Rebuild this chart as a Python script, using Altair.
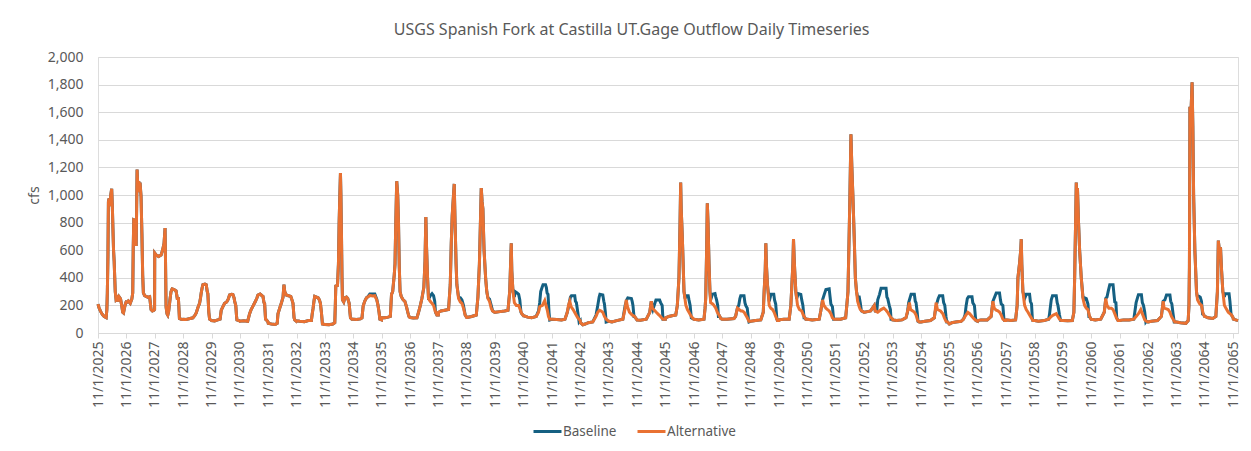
import altair as alt
import pandas as pd

TITLE = "USGS Spanish Fork at Castilla UT.Gage Outflow Daily Timeseries"
Y_TITLE = "cfs"
Y_TICKS = list(range(0, 2001, 200))
X_TICK_YEARS = list(range(2025, 2066))
SERIES = ["Baseline", "Alternative"]
COLORS = ["#156082", "#E97132"]

# Alternative series:
# (water year starting 1 Nov, [(days after 1 Nov, cfs), ...])
alternative = [
    (2025, [(0,210),(12,185),(30,160),(55,135),(80,120),(105,112),(114,170),(120,290),(128,560),(134,950),(142,975),(152,920),(162,990),(176,1045),(184,930),(192,760),(200,600),(208,520),(214,420),(222,300),(232,245),(245,255),(258,228),(272,262),(290,248),(305,200),(318,150),(328,145),(338,175),(350,205),(360,222)]),
    (2026, [(0,220),(25,232),(50,215),(70,245),(82,290),(88,600),(95,820),(116,815),(122,700),(126,630),(132,900),(138,1185),(148,1050),(159,1100),(168,1020),(176,1090),(189,990),(200,720),(210,420),(219,290),(235,270),(254,265),(280,258),(300,262),(312,200),(318,170),(335,160),(355,165),(363,170)]),
    (2027, [(0,580),(20,565),(50,555),(82,565),(95,590),(103,605),(120,650),(133,760),(138,560),(146,190),(158,140),(168,130),(180,160),(198,250),(210,300),(224,320),(250,315),(275,305),(290,250),(305,250),(318,105),(340,100),(362,98)]),
    (2028, [(0,100),(40,98),(90,105),(125,110),(150,128),(168,145),(190,185),(211,215),(222,250),(232,290),(245,330),(254,350),(280,355),(297,350),(310,300),(318,285),(330,150),(340,100),(362,92)]),
    (2029, [(0,90),(40,88),(80,95),(110,100),(125,165),(145,190),(168,215),(195,225),(215,245),(232,275),(260,280),(275,278),(290,255),(297,230),(312,200),(322,120),(327,95),(362,88)]),
    (2030, [(0,85),(50,88),(100,85),(125,140),(145,170),(168,195),(200,230),(220,255),(232,275),(260,282),(285,270),(297,265),(310,220),(318,215),(330,100),(340,95),(362,80)]),
    (2031, [(0,70),(40,65),(90,62),(115,70),(125,140),(150,185),(168,215),(190,260),(202,350),(212,300),(232,275),(260,270),(290,265),(305,240),(318,215),(332,110),(340,95),(362,85)]),
    (2032, [(0,88),(40,85),(100,82),(150,90),(189,90),(200,140),(211,180),(222,230),(232,265),(255,260),(275,255),(292,240),(305,215),(318,150),(331,65),(362,62)]),
    (2033, [(0,62),(50,60),(100,65),(125,75),(132,200),(138,340),(160,345),(172,500),(181,800),(190,1000),(198,1160),(204,1000),(211,720),(218,400),(224,240),(240,225),(255,255),(275,260),(292,250),(310,215),(320,150),(327,110),(345,100),(362,100)]),
    (2034, [(0,100),(40,98),(90,102),(110,110),(125,195),(145,230),(168,255),(190,262),(211,272),(250,268),(275,270),(300,240),(315,205),(330,150),(340,100),(362,95)]),
    (2035, [(0,110),(40,110),(80,115),(110,120),(125,280),(140,300),(160,420),(170,500),(180,800),(192,1100),(205,1000),(215,800),(225,480),(235,300),(250,265),(275,240),(297,230),(318,190),(335,150),(350,120),(362,112)]),
    (2036, [(0,112),(40,108),(86,110),(107,150),(130,200),(150,250),(175,330),(190,520),(201,840),(210,620),(223,400),(235,250),(257,230),(280,215),(300,200),(320,160),(343,130),(362,130)]),
    (2037, [(0,150),(30,160),(80,165),(128,170),(150,350),(163,650),(175,850),(201,1080),(212,800),(225,500),(235,350),(257,250),(280,225),(300,215),(320,180),(342,130),(362,112)]),
    (2038, [(0,112),(60,120),(120,130),(141,260),(160,500),(184,1050),(195,950),(205,900),(220,600),(240,400),(255,300),(270,250),(290,230),(312,180),(330,160),(355,150),(362,150)]),
    (2039, [(0,150),(60,155),(120,160),(163,165),(185,300),(205,650),(212,450),(227,300),(245,220),(270,200),(300,200),(320,170),(340,140),(355,130),(362,125)]),
    (2040, [(0,125),(50,115),(100,110),(160,120),(190,150),(205,190),(240,200),(270,235),(291,190),(305,160),(318,120),(334,100),(362,100)]),
    (2041, [(0,100),(60,98),(120,95),(165,100),(195,150),(210,200),(227,230),(245,190),(270,170),(300,140),(330,110),(362,90)]),
    (2042, [(0,75),(30,60),(60,65),(100,75),(158,80),(200,120),(222,150),(245,165),(265,160),(287,150),(308,120),(330,100),(362,85)]),
    (2043, [(0,85),(40,80),(100,90),(180,100),(210,180),(223,240),(240,190),(265,150),(300,130),(330,120),(362,95)]),
    (2044, [(0,95),(40,92),(116,100),(160,150),(180,230),(195,180),(244,150),(280,130),(330,100),(362,100)]),
    (2045, [(0,110),(40,120),(80,125),(130,130),(150,200),(171,400),(185,800),(193,1090),(200,900),(214,700),(236,300),(260,200),(280,170),(300,150),(330,120),(362,100)]),
    (2046, [(0,100),(60,95),(128,100),(142,180),(150,250),(162,600),(171,940),(180,800),(193,500),(205,300),(214,220),(240,210),(257,200),(280,180),(300,150),(321,130),(345,105),(362,100)]),
    (2047, [(0,100),(60,100),(150,105),(170,120),(193,180),(215,170),(240,160),(257,160),(280,150),(300,130),(320,110),(342,85),(362,85)]),
    (2048, [(0,85),(60,90),(128,95),(160,150),(171,300),(185,450),(193,650),(200,500),(214,350),(236,200),(257,180),(280,170),(300,150),(320,120),(342,90),(362,90)]),
    (2049, [(0,95),(60,100),(128,100),(150,200),(163,350),(176,500),(184,680),(192,550),(200,450),(214,300),(236,200),(260,170),(290,160),(310,130),(330,110),(342,100),(362,100)]),
    (2050, [(0,100),(60,95),(150,100),(170,160),(193,240),(210,200),(236,180),(257,170),(278,160),(300,140),(320,110),(342,100),(362,100)]),
    (2051, [(0,100),(60,100),(125,110),(140,200),(155,300),(168,650),(180,1000),(193,1440),(205,1200),(218,1000),(235,700),(250,400),(265,300),(279,230),(300,190),(313,170),(330,160),(362,150)]),
    (2052, [(0,150),(40,155),(80,160),(128,200),(140,160),(172,150),(215,170),(250,180),(279,165),(300,150),(320,130),(343,110),(362,100)]),
    (2053, [(0,95),(50,90),(120,95),(170,110),(200,180),(214,220),(230,170),(257,160),(280,150),(300,130),(321,90),(342,80),(362,80)]),
    (2054, [(0,80),(50,85),(120,90),(170,110),(193,220),(210,170),(250,160),(280,140),(300,110),(321,85),(342,80),(362,65)]),
    (2055, [(0,65),(30,75),(80,80),(150,85),(180,100),(200,120),(236,150),(260,140),(290,120),(320,100),(342,90),(362,85)]),
    (2056, [(0,90),(40,95),(120,95),(170,120),(193,230),(210,180),(236,165),(257,160),(280,150),(300,130),(321,100),(342,90),(362,90)]),
    (2057, [(0,95),(60,90),(120,95),(140,200),(150,400),(170,500),(186,600),(193,680),(200,500),(214,300),(236,200),(257,170),(280,150),(300,130),(321,110),(342,90),(362,90)]),
    (2058, [(0,90),(50,85),(120,90),(180,100),(214,120),(240,130),(278,140),(300,120),(321,100),(342,90),(362,90)]),
    (2059, [(0,90),(60,88),(120,90),(140,150),(150,400),(162,800),(171,1090),(178,950),(186,1050),(200,800),(214,600),(235,400),(257,250),(278,200),(300,180),(321,170),(342,120),(362,100)]),
    (2060, [(0,100),(50,95),(120,100),(165,150),(184,250),(200,200),(225,180),(257,180),(278,170),(300,140),(321,110),(342,90),(362,90)]),
    (2061, [(0,90),(50,95),(120,95),(180,100),(210,120),(240,140),(270,170),(290,140),(321,95),(342,85),(362,80)]),
    (2062, [(0,80),(40,85),(120,90),(170,120),(193,230),(205,180),(236,175),(257,170),(280,150),(300,120),(321,100),(342,80),(362,80)]),
    (2063, [(0,80),(50,75),(120,70),(150,90),(160,200),(166,480),(172,1640),(180,1500),(200,1816),(210,1500),(220,1000),(236,600),(257,300),(270,240),(290,220),(300,210),(321,200),(342,140),(362,120)]),
    (2064, [(0,120),(40,110),(100,105),(140,120),(160,300),(172,670),(185,600),(200,620),(214,450),(230,300),(250,200),(270,180),(300,150),(321,140),(342,130),(362,110)]),
    (2065, [(0,100),(30,95),(60,90)]),
]

# Baseline series: where it differs from Alternative (summer humps).
# Outside these windows the two lines lie on top of each other.
baseline_humps = [
    (2034, [(168,255),(190,265),(211,282),(275,282),(300,245),(315,205)]),
    (2036, [(240,250),(257,270),(280,285),(300,270),(315,230),(325,150)]),
    (2037, [(257,260),(280,255),(300,240),(320,200)]),
    (2038, [(270,255),(290,245),(312,200)]),
    (2039, [(227,300),(245,260),(255,300),(280,290),(300,280),(315,240),(330,150)]),
    (2040, [(190,160),(205,220),(218,300),(235,330),(248,350),(280,350),(291,330),(300,290),(312,280),(325,150),(334,95)]),
    (2041, [(195,150),(215,200),(235,260),(248,270),(291,270),(300,230),(312,220),(330,150),(347,80)]),
    (2042, [(200,130),(222,200),(240,260),(250,280),(287,275),(300,230),(308,210),(320,150),(330,80)]),
    (2043, [(210,200),(230,240),(244,255),(290,250),(300,230),(310,200),(325,110)]),
    (2044, [(200,170),(223,210),(240,240),(287,240),(300,220),(320,200),(330,100)]),
    (2045, [(236,300),(250,250),(260,270),(290,270),(300,240),(315,200),(330,110)]),
    (2046, [(214,240),(225,260),(236,280),(270,285),(280,260),(290,240),(305,200),(315,110)]),
    (2047, [(193,180),(210,200),(225,250),(236,270),(278,270),(290,220),(300,200),(320,180),(335,100),(342,80)]),
    (2048, [(236,230),(250,260),(257,280),(295,280),(305,240),(320,210),(335,100)]),
    (2049, [(214,300),(225,250),(236,270),(245,285),(278,280),(290,240),(305,200),(320,110)]),
    (2050, [(193,240),(215,280),(236,315),(278,320),(290,260),(300,210),(320,190),(335,100)]),
    (2051, [(265,300),(279,260),(300,260),(313,220),(325,170)]),
    (2052, [(160,160),(172,240),(195,280),(215,325),(279,325),(290,260),(300,250),(320,200),(335,170),(343,100)]),
    (2053, [(190,150),(205,220),(225,260),(236,280),(278,280),(290,230),(300,220),(315,150),(325,85)]),
    (2054, [(180,150),(200,210),(220,250),(236,270),(278,270),(290,220),(305,200),(320,120),(330,80)]),
    (2055, [(200,130),(215,200),(230,250),(245,262),(290,262),(300,220),(321,200),(335,110)]),
    (2056, [(193,230),(215,260),(236,290),(278,290),(290,240),(300,210),(321,200),(335,100)]),
    (2057, [(214,300),(236,250),(257,280),(300,280),(310,230),(325,210),(335,110)]),
    (2058, [(190,130),(205,200),(214,240),(230,270),(278,270),(290,220),(300,200),(320,130),(335,90)]),
    (2059, [(257,260),(270,240),(278,255),(300,250),(321,210),(335,110)]),
    (2060, [(184,250),(200,260),(215,300),(236,350),(278,350),(290,280),(300,225),(315,220),(325,110)]),
    (2061, [(193,150),(210,220),(230,260),(240,278),(278,278),(290,220),(305,200),(321,150),(335,80)]),
    (2062, [(193,230),(215,240),(236,275),(280,275),(290,230),(305,210),(320,140),(335,80)]),
    (2063, [(257,300),(265,270),(290,265),(305,260),(321,230),(335,140)]),
    (2064, [(230,300),(250,260),(257,285),(310,285),(321,230),(335,140)]),
]

FONT = "Noto Sans"
TEXT_COLOR = "#595959"
GRID_COLOR = "#D9D9D9"


def to_rows(series, year, pts):
    start = pd.Timestamp(year=year, month=11, day=1)
    return [
        {"date": (start + pd.Timedelta(days=d)).strftime("%Y-%m-%dT%H:%M:%S"),
         "cfs": v, "series": series}
        for d, v in pts
    ]


humps = dict(baseline_humps)
rows = []
for year, pts in alternative:
    if year in humps:
        h = humps[year]
        bpts = [p for p in pts if p[0] < h[0][0]] + h + [p for p in pts if p[0] > h[-1][0]]
    else:
        bpts = pts
    rows += to_rows("Baseline", year, bpts)
for year, pts in alternative:
    rows += to_rows("Alternative", year, pts)

df = pd.DataFrame(rows)

x_enc = alt.X(
    "date:T",
    title=None,
    scale=alt.Scale(domain=[alt.DateTime(year=2025, month=11, date=1),
                            alt.DateTime(year=2065, month=12, date=31)]),
    axis=alt.Axis(
        values=[alt.DateTime(year=y, month=11, date=1) for y in X_TICK_YEARS],
        format="%-m/%-d/%Y", labelAngle=270, labelFontSize=14, labelColor=TEXT_COLOR,
        labelFont=FONT, labelPadding=3, grid=False, domainColor=GRID_COLOR,
        tickColor=GRID_COLOR, tickSize=5, labelOverlap=False, labelFlush=False,
    ),
)
y_enc = alt.Y(
    "cfs:Q",
    title=Y_TITLE,
    scale=alt.Scale(domain=[0, 2000], nice=False),
    axis=alt.Axis(
        values=Y_TICKS, format=",.0f", grid=True, gridColor=GRID_COLOR, domain=False,
        ticks=False, labelPadding=15, labelFontSize=14, labelColor=TEXT_COLOR,
        labelFont=FONT, titleFont=FONT, titleFontSize=14, titleColor=TEXT_COLOR,
        titleFontWeight="normal", titlePadding=6,
    ),
)
color_enc = alt.Color(
    "series:N",
    scale=alt.Scale(domain=SERIES, range=COLORS),
    legend=alt.Legend(
        title=None, orient="none", legendX=434, legendY=359, direction="horizontal",
        symbolType="stroke", symbolSize=784, symbolStrokeWidth=3,
        labelFontSize=13.5, labelColor=TEXT_COLOR, labelFont=FONT, labelOffset=0,
        columnPadding=14,
    ),
)

base = alt.Chart(df).mark_line(strokeWidth=3, interpolate="linear").encode(
    x=x_enc, y=y_enc, color=color_enc
)
chart = alt.layer(
    base.transform_filter(alt.datum.series == "Baseline"),
    base.transform_filter(alt.datum.series == "Alternative"),
).properties(
    width=1140,
    height=276,
    padding={"left": 90, "top": 49, "right": 5, "bottom": 106},
    autosize=alt.AutoSizeParams(type="none"),
    title=alt.TitleParams(TITLE, font=FONT, fontSize=16, fontWeight="normal",
                          color=TEXT_COLOR, anchor="middle", frame="bounds",
                          offset=12, dx=-4),
).configure_view(stroke=None).configure(font=FONT)

chart.save("out.html", embed_options={"renderer": "svg", "actions": False})
